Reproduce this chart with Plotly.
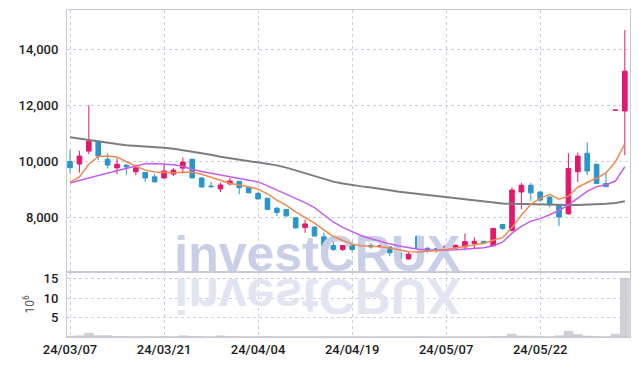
import plotly.graph_objects as go

# ---------------- data ----------------
dates = ["24/03/07", "24/03/08", "24/03/11", "24/03/12", "24/03/13", "24/03/14", "24/03/15",
         "24/03/18", "24/03/19", "24/03/20", "24/03/21", "24/03/22", "24/03/25", "24/03/26",
         "24/03/27", "24/03/28", "24/03/29", "24/04/01", "24/04/02", "24/04/03", "24/04/04",
         "24/04/05", "24/04/08", "24/04/09", "24/04/11", "24/04/12", "24/04/15", "24/04/16",
         "24/04/17", "24/04/18", "24/04/19", "24/04/22", "24/04/23", "24/04/24", "24/04/25",
         "24/04/26", "24/04/29", "24/04/30", "24/05/02", "24/05/03", "24/05/07", "24/05/08",
         "24/05/09", "24/05/10", "24/05/13", "24/05/14", "24/05/16", "24/05/17", "24/05/20",
         "24/05/21", "24/05/22", "24/05/23", "24/05/24", "24/05/27", "24/05/28", "24/05/29",
         "24/05/30", "24/05/31", "24/06/03", "24/06/04"]

opens = [10000, 9910, 10370, 10720, 10080, 9770, 9870, 9630, 9610, 9450,
         9410, 9550, 9760, 10080, 9410, 9120, 9020, 9200, 9290, 9070,
         8860, 8690, 8330, 8290, 7990, 7640, 7660, 7310, 7000, 6860,
         7000, 6860, 7000, 6950, 6950, 6740, 6520, 7330, 6900, 6890,
         6860, 6910, 6950, 7070, 7150, 6990, 7750, 7540, 8910, 9150,
         8910, 8730, 8460, 8130, 9630, 10290, 9900, 9210, 11830, 11800]
highs = [10400, 10380, 12000, 10750, 10290, 10110, 9880, 9890, 9620, 9550,
         9930, 9760, 10140, 10090, 9440, 9270, 9250, 9410, 9300, 9080,
         8910, 8700, 8380, 8300, 8000, 7930, 7680, 7460, 7150, 7010,
         7150, 7000, 7090, 7050, 6960, 6810, 6760, 7340, 6950, 6950,
         7010, 7030, 7430, 7290, 7160, 7620, 7760, 9060, 9240, 9240,
         8930, 8740, 8470, 10290, 10320, 10680, 9920, 9630, 11830, 14690]
lows = [9600, 9600, 10260, 10050, 9750, 9550, 9530, 9510, 9270, 9260,
        9390, 9480, 9570, 9410, 9080, 9060, 8910, 9150, 8830, 8860,
        8650, 8280, 8050, 8020, 7600, 7450, 7320, 6870, 6800, 6800,
        6780, 6850, 6890, 6940, 6620, 6510, 6510, 6810, 6750, 6740,
        6850, 6900, 6830, 6890, 7070, 6980, 7550, 7500, 8290, 8590,
        8560, 8360, 7690, 8100, 9270, 9510, 9200, 9090, 11830, 10220]
closes = [9780, 10190, 10720, 10190, 9870, 9900, 9800, 9770, 9410, 9270,
          9660, 9690, 9980, 9410, 9090, 9100, 9160, 9300, 9060, 8880,
          8660, 8290, 8180, 8060, 7630, 7770, 7340, 6990, 6860, 7000,
          6860, 6990, 6950, 7000, 6740, 6520, 6690, 6890, 6830, 6840,
          6980, 7010, 7140, 7150, 7080, 7610, 7610, 8980, 9150, 8880,
          8620, 8460, 8020, 9750, 10190, 9660, 9210, 9100, 11830, 13220]

ma_short = [9250, 9450, 9900, 10180, 10190, 10160, 9990, 9830, 9690, 9620,
            9600, 9600, 9610, 9610, 9540, 9440, 9340, 9220, 9160, 9100,
            9010, 8840, 8620, 8430, 8200, 8000, 7800, 7560, 7320, 7190,
            7050, 6990, 6970, 6960, 6910, 6840, 6780, 6770, 6780, 6810,
            6860, 6910, 6960, 7020, 7080, 7190, 7280, 7640, 8080, 8470,
            8680, 8830, 8650, 8760, 9080, 9250, 9400, 9590, 9990, 10630]
ma_mid = [9230, 9320, 9430, 9520, 9590, 9670, 9760, 9850, 9920, 9930,
          9910, 9880, 9830, 9710, 9640, 9570, 9510, 9450, 9390, 9330,
          9270, 9130, 8980, 8850, 8680, 8530, 8350, 8090, 7840, 7650,
          7490, 7350, 7240, 7140, 7060, 6980, 6920, 6870, 6840, 6830,
          6840, 6850, 6870, 6890, 6920, 6990, 7120, 7440, 7680, 7870,
          7960, 8100, 8250, 8450, 8700, 8930, 9100, 9170, 9300, 9810]
ma_long = [10860, 10810, 10750, 10700, 10660, 10620, 10580, 10560, 10530, 10510,
           10490, 10450, 10400, 10360, 10300, 10240, 10170, 10120, 10070, 10020,
           9980, 9920, 9860, 9780, 9680, 9570, 9470, 9380, 9280, 9210,
           9150, 9110, 9070, 9030, 8970, 8920, 8880, 8840, 8800, 8770,
           8740, 8700, 8660, 8620, 8580, 8540, 8500, 8490, 8480, 8480,
           8470, 8460, 8450, 8450, 8450, 8460, 8460, 8490, 8520, 8580]

volume_millions = [0.2, 0.3, 0.95, 0.35, 0.35, 0.12, 0.1, 0.08, 0.1, 0.08,
                   0.1, 0.08, 0.3, 0.15, 0.1, 0.06, 0.28, 0.1, 0.1, 0.06,
                   0.08, 0.1, 0.06, 0.05, 0.08, 0.06, 0.05, 0.08, 0.05, 0.04,
                   0.05, 0.04, 0.04, 0.03, 0.05, 0.05, 0.04, 0.08, 0.04, 0.03,
                   0.04, 0.04, 0.08, 0.05, 0.03, 0.15, 0.1, 0.7, 0.25, 0.2,
                   0.1, 0.06, 0.3, 1.45, 0.6, 0.25, 0.1, 0.08, 0.7, 15.1]

tick_labels = ["24/03/07", "24/03/21", "24/04/04", "24/04/19", "24/05/07", "24/05/22"]
price_ticks = [8000, 10000, 12000, 14000]
volume_ticks = [5, 10, 15]
watermark = "investCRUX"

# ---------------- styles ----------------
RED = "#e3186c"
BLUE = "#2b95c9"
ORANGE = "#f0894f"
PURPLE = "#c45de9"
GRAY = "rgb(125,125,125)"
GRID = "#c8cde2"
FRAME = "#c9c9d2"
WM_MAIN = "rgb(201,207,230)"
WM_REFL = "rgb(226,229,241)"

x = list(range(len(dates)))
tickvals = [dates.index(t) for t in tick_labels]

fig = go.Figure()

# watermark (drawn first so the marks sit above it)
fig.add_trace(go.Scatter(
    x=[26.3], y=[7440], mode="text", text=[watermark], textposition="bottom center",
    textfont=dict(family="Liberation Sans", size=50, color=WM_MAIN, weight="bold"),
    cliponaxis=False, hoverinfo="skip", showlegend=False))
fig.add_trace(go.Scatter(
    x=[26.3], y=[15.9], yaxis="y2", mode="text", text=[watermark], textposition="bottom center",
    textfont=dict(family="Liberation Sans", size=50, color=WM_REFL, weight="bold"),
    cliponaxis=False, hoverinfo="skip", showlegend=False))

# volume
fig.add_trace(go.Bar(
    x=x, y=volume_millions, yaxis="y2",
    marker=dict(color="rgba(205,205,212,0.95)", line=dict(color="rgb(185,185,195)", width=0.5)),
    hoverinfo="skip", showlegend=False))

# candles
fig.add_trace(go.Candlestick(
    x=x, open=opens, high=highs, low=lows, close=closes,
    increasing=dict(line=dict(color=RED, width=1), fillcolor=RED),
    decreasing=dict(line=dict(color=BLUE, width=1), fillcolor=BLUE),
    whiskerwidth=0, showlegend=False))

# moving averages
fig.add_trace(go.Scatter(x=x, y=ma_long, mode="lines", line=dict(color=GRAY, width=2), showlegend=False))
fig.add_trace(go.Scatter(x=x, y=ma_mid, mode="lines", line=dict(color=PURPLE, width=1.5), showlegend=False))
fig.add_trace(go.Scatter(x=x, y=ma_short, mode="lines", line=dict(color=ORANGE, width=1.5), showlegend=False))

tickfont = dict(family="Roboto", size=13, color="#1e1e1e", weight=500)

fig.update_layout(
    width=639, height=366,
    margin=dict(l=67, r=9, t=10, b=29, autoexpand=False),
    plot_bgcolor="white", paper_bgcolor="white",
    showlegend=False, bargap=0.08,
    xaxis=dict(range=[-0.32, 59.55], anchor="y2", tickmode="array", tickvals=tickvals, ticktext=tick_labels,
               showgrid=True, gridcolor=GRID, griddash="dot", gridwidth=1,
               showline=True, linecolor=FRAME, linewidth=1, mirror="all",
               ticks="", automargin=False,
               zeroline=False, rangeslider=dict(visible=False), tickfont=tickfont),
    yaxis=dict(domain=[0.1988, 1], range=[6056, 15402], tickmode="array", tickvals=price_ticks,
               tickformat=",d", showgrid=True, gridcolor=GRID, griddash="dot", gridwidth=1,
               showline=True, linecolor=FRAME, linewidth=1, mirror=True,
               ticks="outside", ticklen=5, tickcolor="rgba(0,0,0,0)", automargin=False,
               zeroline=False, tickfont=tickfont),
    yaxis2=dict(domain=[0, 0.1988], range=[0, 16.7], tickmode="array", tickvals=volume_ticks,
                showgrid=True, gridcolor=GRID, griddash="dot", gridwidth=1,
                showline=True, linecolor=FRAME, linewidth=1, mirror=True,
                ticks="outside", ticklen=5, tickcolor="rgba(0,0,0,0)", automargin=False,
                zeroline=False, tickfont=tickfont,
                title=dict(text="10<sup>6</sup>", font=dict(family="Roboto", size=12, color="#555"), standoff=6)),
)

post_js = """
document.body.style.margin = '0';
document.body.style.padding = '0';
var gd = document.getElementById('{plot_id}');
function flipRefl(){
  var nodes = gd.querySelectorAll('.textpoint text');
  for (var k = 0; k < nodes.length; k++) {
    var t = nodes[k];
    if (t.textContent === 'investCRUX' && t.getAttribute('data-flipped') !== '1') {
      var fill = (t.style.fill || '') + (t.getAttribute('fill') || '');
      if (fill.indexOf('226') >= 0) {
        var b = t.getBBox();
        var cy = b.y + b.height / 2;
        var prev = t.getAttribute('transform') || '';
        t.setAttribute('transform', prev + ' translate(0,' + (2 * cy) + ') scale(1,-1)');
        t.setAttribute('data-flipped', '1');
      }
    }
  }
}
flipRefl();
setTimeout(flipRefl, 30);
"""

fig.write_html("out.html", post_script=post_js, config={"displayModeBar": False})
